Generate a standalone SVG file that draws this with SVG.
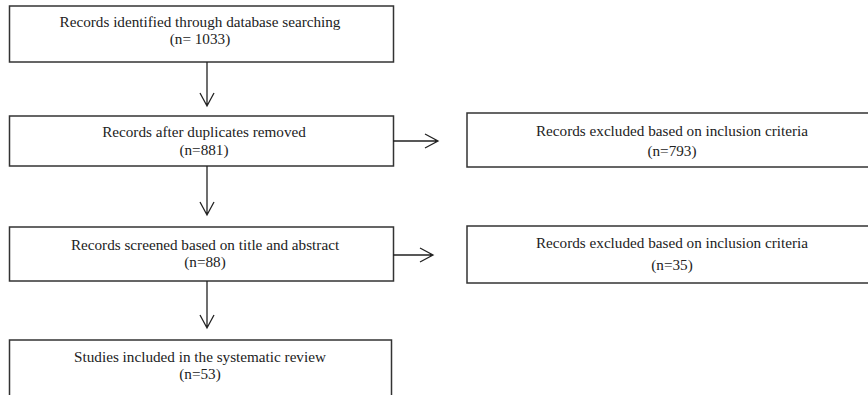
<svg xmlns="http://www.w3.org/2000/svg" width="868" height="395" viewBox="0 0 868 395">
<style>
.box{fill:#fff;stroke:#333;stroke-width:1.5}
.t{font-family:"Liberation Serif","Times New Roman",serif;font-size:15.2px;fill:#222;text-anchor:middle}
.c{fill:none;stroke:#222;stroke-width:1.3}
</style>
<rect width="868" height="395" fill="#fff"/>
<g id="n1"><rect class="box" x="9.5" y="6" width="384" height="56"/><text class="t" x="200" y="27">Records identified through database searching</text><text class="t" x="200" y="44">(n= 1033)</text></g>
<g id="n2"><rect class="box" x="9.5" y="116" width="384" height="50"/><text class="t" x="204" y="137">Records after duplicates removed</text><text class="t" x="204" y="155">(n=881)</text></g>
<g id="n3"><rect class="box" x="9.5" y="227" width="384" height="54"/><text class="t" x="205" y="250">Records screened based on title and abstract</text><text class="t" x="205" y="267">(n=88)</text></g>
<g id="n4"><rect class="box" x="9.5" y="340" width="382" height="70"/><text class="t" x="200" y="362">Studies included in the systematic review</text><text class="t" x="200" y="379">(n=53)</text></g>
<g id="n5"><rect class="box" x="467" y="113" width="412" height="54"/><text class="t" x="672" y="136">Records excluded based on inclusion criteria</text><text class="t" x="672" y="156">(n=793)</text></g>
<g id="n6"><rect class="box" x="467" y="226" width="412" height="57"/><text class="t" x="672" y="248">Records excluded based on inclusion criteria</text><text class="t" x="672" y="270">(n=35)</text></g>
<g id="connectors">
<path class="c" d="M207 62V106M200 93L207 106L214 93"/>
<path class="c" d="M207 166V215M200 202L207 215L214 202"/>
<path class="c" d="M207 281V328M200 315L207 328L214 315"/>
<path class="c" d="M393 141H438M425 134L438 141L425 148"/>
<path class="c" d="M393 255H433M420 248L433 255L420 262"/>
</g>
</svg>
